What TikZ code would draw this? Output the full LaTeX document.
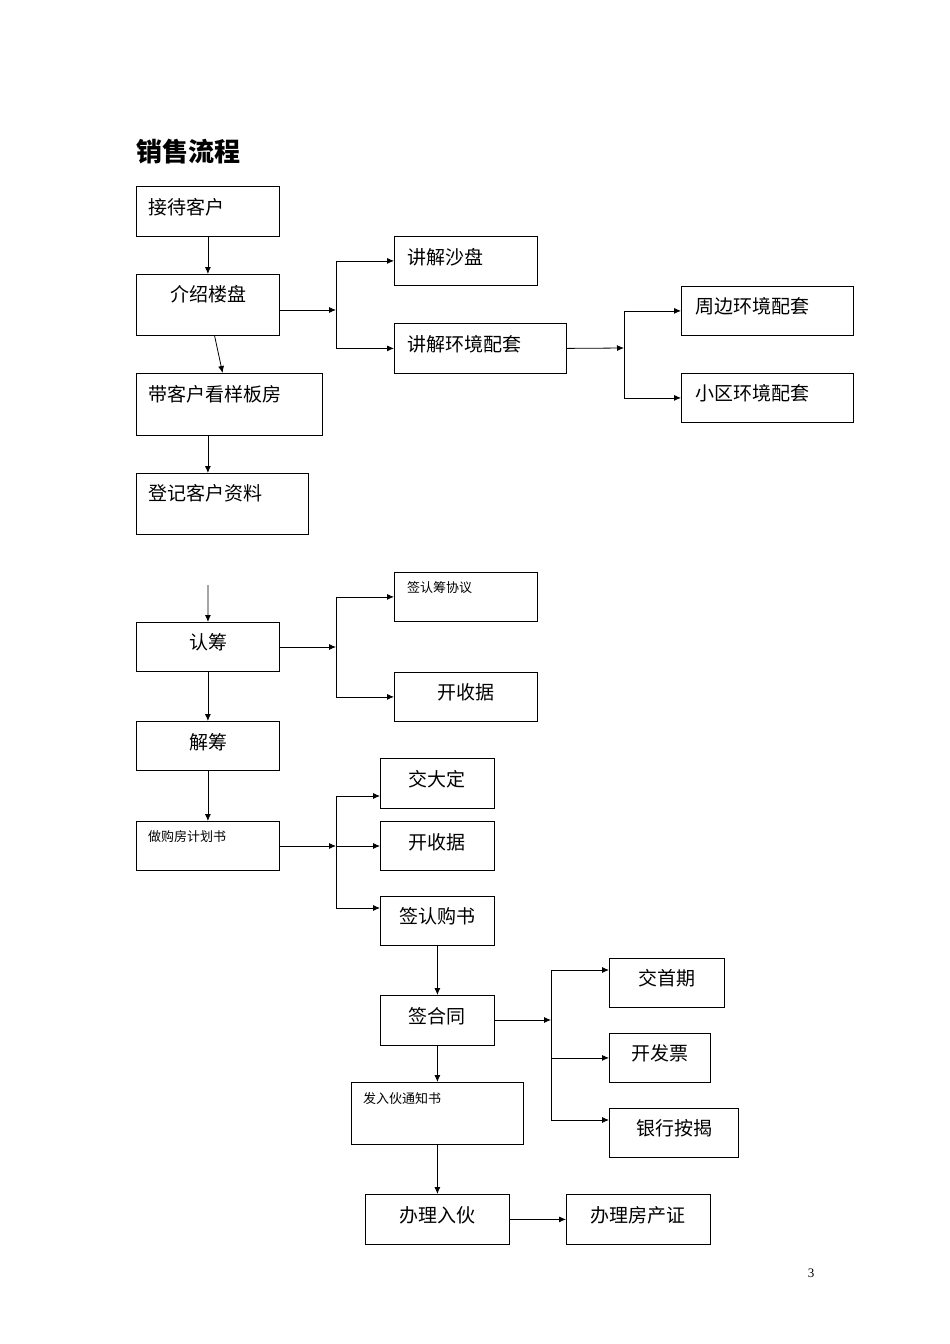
\documentclass[tikz,border=0pt]{standalone}
\usepackage{fontspec}
\setmainfont{Liberation Serif}
\newfontfamily\cjk{Noto Sans CJK SC}
\usetikzlibrary{arrows.meta}
\begin{document}
\begin{tikzpicture}[x=1pt,y=-1pt,
  box/.style={draw,line width=0.8pt,anchor=north west,inner sep=0pt},
  txt/.style={font=\cjk\fontsize{19}{19}\selectfont,inner sep=0pt},
  sml/.style={font=\cjk\fontsize{13}{13}\selectfont,inner sep=0pt},
  arr/.style={line width=0.8pt,-{Latex[length=7pt,width=6pt]}},
  ln/.style={line width=0.8pt}]
\useasboundingbox[fill=white] (0,0) rectangle (950,1344);
\newcommand{\bx}[5]{\node[box,minimum width=#4-#2,minimum height=#5-#3] (#1) at (#2,#3) {};}
\node[anchor=west,inner sep=0pt,font=\cjk\bfseries\fontsize{26}{26}\selectfont] (title) at (136,152) {销售流程};
% part 1
\bx{a1}{136}{186}{279}{236} \node[txt,anchor=west] at (148,207) {接待客户};
\bx{a2}{136}{274}{279}{335} \node[txt] at (208,294) {介绍楼盘};
\bx{a3}{136}{373}{322}{435} \node[txt,anchor=west] at (148,394) {带客户看样板房};
\bx{a4}{136}{473}{308}{534} \node[txt,anchor=west] at (148,493) {登记客户资料};
\bx{b1}{394}{236}{537}{285} \node[txt,anchor=west] at (407,257) {讲解沙盘};
\bx{b2}{394}{323}{566}{373} \node[txt,anchor=west] at (407,344) {讲解环境配套};
\bx{c1}{681}{286}{853}{335} \node[txt,anchor=west] at (695,306) {周边环境配套};
\bx{c2}{681}{373}{853}{422} \node[txt,anchor=west] at (695,393) {小区环境配套};
\draw[arr] (a1) -- (a2);
\draw[arr] (a2) -- (a3);
\draw[arr] (a3.south -| a2.south) -- (a4.north -| a2.south);
\coordinate (j1) at (336,310);
\draw[arr] (a2.east |- j1) -- (j1);
\draw[ln] (j1 |- b1.west) -- (j1 |- b2.west);
\draw[arr] (j1 |- b1.west) -- (b1.west);
\draw[arr] (j1 |- b2.west) -- (b2.west);
\coordinate (j2) at (624,348);
\draw[arr] (b2.east) -- (j2);
\draw[ln] (j2 |- c1.west) -- (j2 |- c2.west);
\draw[arr] (j2 |- c1.west) -- (c1.west);
\draw[arr] (j2 |- c2.west) -- (c2.west);
% part 2
\coordinate (s0) at (208,585);
\bx{d1}{136}{622}{279}{671} \node[txt] at (208,642) {认筹};
\bx{e1}{394}{572}{537}{621} \node[sml,anchor=west] at (407,588) {签认筹协议};
\bx{e2}{394}{672}{537}{721} \node[txt] at (466,692) {开收据};
\draw[arr] (s0) -- (d1);
\coordinate (j3) at (336,647);
\draw[arr] (d1.east |- j3) -- (j3);
\draw[ln] (j3 |- e1.west) -- (j3 |- e2.west);
\draw[arr] (j3 |- e1.west) -- (e1.west);
\draw[arr] (j3 |- e2.west) -- (e2.west);
\bx{d2}{136}{721}{279}{770} \node[txt] at (208,742) {解筹};
\draw[arr] (d1) -- (d2);
\bx{d3}{136}{821}{279}{870} \node[sml,anchor=west] at (148,837) {做购房计划书};
\draw[arr] (d2) -- (d3);
\bx{f1}{380}{758}{494}{808} \node[txt] at (437,779) {交大定};
\bx{f2}{380}{821}{494}{870} \node[txt] at (437,842) {开收据};
\bx{f3}{380}{896}{494}{945} \node[txt] at (437,916) {签认购书};
\coordinate (j4) at (336,846);
\draw[arr] (d3.east |- j4) -- (j4);
\draw[ln] (336,796) -- (336,908);
\draw[arr] (336,796) -- (f1.west |- 0,796);
\draw[arr] (j4) -- (f2.west |- j4);
\draw[arr] (336,908) -- (f3.west |- 0,908);
\bx{g1}{380}{995}{494}{1045} \node[txt] at (437,1016) {签合同};
\draw[arr] (f3) -- (g1);
\bx{h1}{609}{958}{724}{1007} \node[txt] at (667,978) {交首期};
\bx{h2}{609}{1033}{710}{1082} \node[txt] at (660,1053) {开发票};
\bx{h3}{609}{1108}{738}{1157} \node[txt] at (674,1128) {银行按揭};
\coordinate (j5) at (551,1020);
\draw[arr] (g1.east |- j5) -- (j5);
\draw[ln] (551,970) -- (551,1120);
\draw[arr] (551,970) -- (h1.west |- 0,970);
\draw[arr] (j5 |- h2.west) -- (h2.west);
\draw[arr] (551,1120) -- (h3.west |- 0,1120);
\bx{k1}{351}{1082}{523}{1144} \node[sml,anchor=west] at (363,1099) {发入伙通知书};
\draw[arr] (g1.south) -- (g1.south |- k1.north);
\bx{m1}{365}{1194}{509}{1244} \node[txt] at (437,1215) {办理入伙};
\draw[arr] (k1.south -| m1.north) -- (m1.north);
\bx{m2}{566}{1194}{710}{1244} \node[txt] at (638,1215) {办理房产证};
\draw[arr] (m1) -- (m2);
\node[inner sep=0pt,font=\fontsize{13}{13}\selectfont] (pg) at (811,1273) {3};
\end{tikzpicture}
\end{document}
